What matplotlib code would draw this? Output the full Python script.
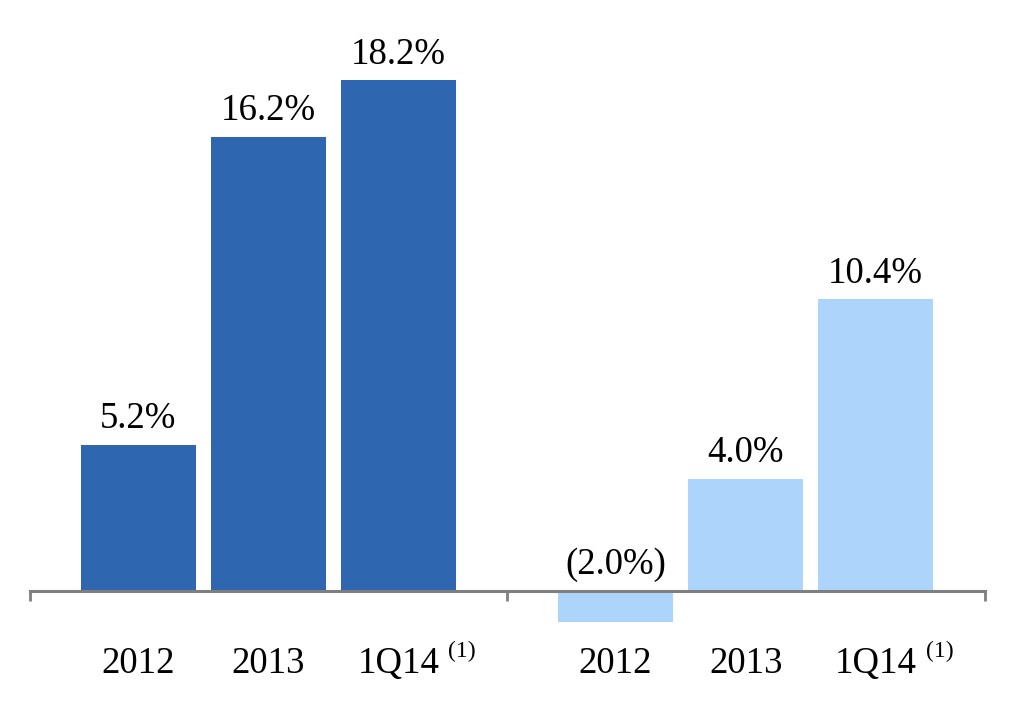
import matplotlib
matplotlib.use('Agg')
import matplotlib.pyplot as plt
import matplotlib.transforms as mtransforms

# two groups of three periods
periods = ['2012', '2013', '1Q14']
footnote = '(1)'
dark_values = [5.2, 16.2, 18.2]
dark_labels = ['5.2%', '16.2%', '18.2%']
light_values = [-1.1, 4.0, 10.4]   # the negative bar is drawn shorter than its label in the source
light_labels = ['(2.0%)', '4.0%', '10.4%']

dark_color = '#2E66B0'
light_color = '#ADD5FB'
axis_color = '#7F7F7F'

plt.rcParams['font.family'] = ['Liberation Serif', 'DejaVu Serif']

fig = plt.figure(figsize=(10.2, 7.2), dpi=100)
ax = fig.add_axes([0, 0, 1, 1])

group_gap = 3.67
x_dark = [i for i in range(len(periods))]
x_light = [i + group_gap for i in range(len(periods))]
width = 0.885

ax.bar(x_dark, dark_values, width=width, color=dark_color, zorder=2)
ax.bar(x_light, light_values, width=width, color=light_color, zorder=2)

for xs, vals, labs in [(x_dark, dark_values, dark_labels), (x_light, light_values, light_labels)]:
    for x, v, lab in zip(xs, vals, labs):
        ax.annotate(lab, xy=(x, max(v, 0)), xytext=(0, 12), textcoords='offset points',
                    ha='center', va='baseline', fontsize=26.5, color='black')

# category labels under the axis
trans = mtransforms.blended_transform_factory(ax.transData, ax.transAxes)
for xs in (x_dark, x_light):
    for x, p in zip(xs, periods):
        ax.text(x, 0.065, p, transform=trans, ha='center', va='baseline', fontsize=26.5)
    ax.annotate(footnote, xy=(xs[-1], 0.065), xycoords=trans, xytext=(36, 12),
                textcoords='offset points', ha='left', va='baseline', fontsize=17)

ax.set_xlim(-1.065, 6.781)
ax.set_ylim(-4.6, 21.07)

for s in ['top', 'left', 'right']:
    ax.spines[s].set_visible(False)
ax.spines['bottom'].set_position(('data', 0))
ax.spines['bottom'].set_bounds(-0.835, 6.51)
ax.spines['bottom'].set_color(axis_color)
ax.spines['bottom'].set_linewidth(2.2)
ax.spines['bottom'].set_zorder(3)

ax.set_xticks([])
ax.set_xticks([-0.835, (x_dark[-1] + x_light[0]) / 2, 6.51], minor=True)
ax.tick_params(axis='x', which='minor', direction='out', length=7, width=2, color=axis_color,
               labelbottom=False)
ax.set_yticks([])

fig.savefig('out.png', dpi=100)
